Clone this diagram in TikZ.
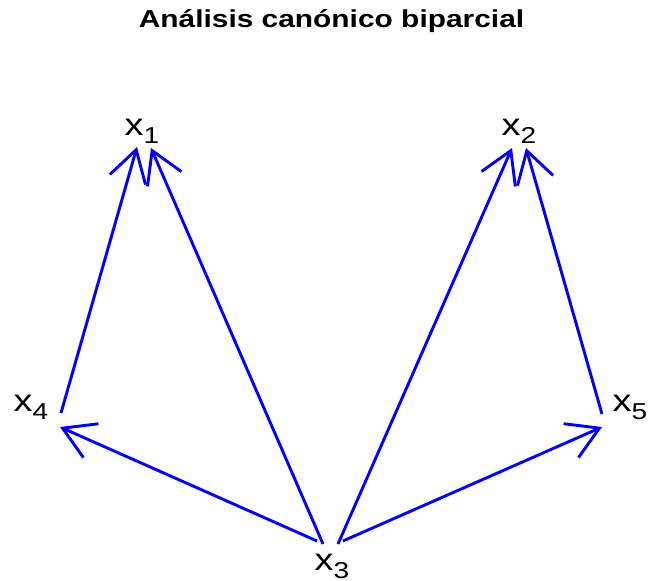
\documentclass[tikz,border=0pt]{standalone}
\usepackage{fontspec}
\setmainfont{Liberation Sans}
\usetikzlibrary{arrows.meta}
\newcommand{\vlab}[1]{\scalebox{1.22}[1]{\fontsize{31}{31}\selectfont x\raisebox{-8.5pt}{\fontsize{23}{23}\selectfont #1}}}
\begin{document}
\begin{tikzpicture}[x=1pt,y=-1pt,
  lab/.style={inner sep=0pt,anchor=base west},
  conn/.style={draw={rgb,255:red,0;green,0;blue,255},line width=2.9pt,
    -{Straight Barb[length=31pt,width=37pt,line width=2.9pt]}}]
\useasboundingbox (0,0) rectangle (649,581);
\node[inner sep=0pt,anchor=base] (title) at (331.5,27) {\scalebox{1.22}[1]{\fontsize{24.5}{24.5}\selectfont\bfseries Análisis canónico biparcial}};
\node[lab] (x1) at (124.5,135) {\vlab{1}};
\node[lab] (x2) at (501.5,135) {\vlab{2}};
\node[lab] (x4) at (13.5,411) {\vlab{4}};
\node[lab] (x5) at (612.5,411) {\vlab{5}};
\node[lab] (x3) at (314.5,570) {\vlab{3}};
% arrow endpoints
\coordinate (s41) at (61,413);  \coordinate (t41) at (137,147);
\coordinate (s31) at (323,544); \coordinate (t31) at (151,148);
\coordinate (s32) at (338,544); \coordinate (t32) at (512,148);
\coordinate (s52) at (602,414); \coordinate (t52) at (526,148);
\coordinate (s34) at (317,541); \coordinate (t34) at (60,427);
\coordinate (s35) at (343,541); \coordinate (t35) at (602,427);
\draw[conn] (s41) -- (t41);
\draw[conn] (s31) -- (t31);
\draw[conn] (s32) -- (t32);
\draw[conn] (s52) -- (t52);
\draw[conn] (s34) -- (t34);
\draw[conn] (s35) -- (t35);
\end{tikzpicture}
\end{document}
